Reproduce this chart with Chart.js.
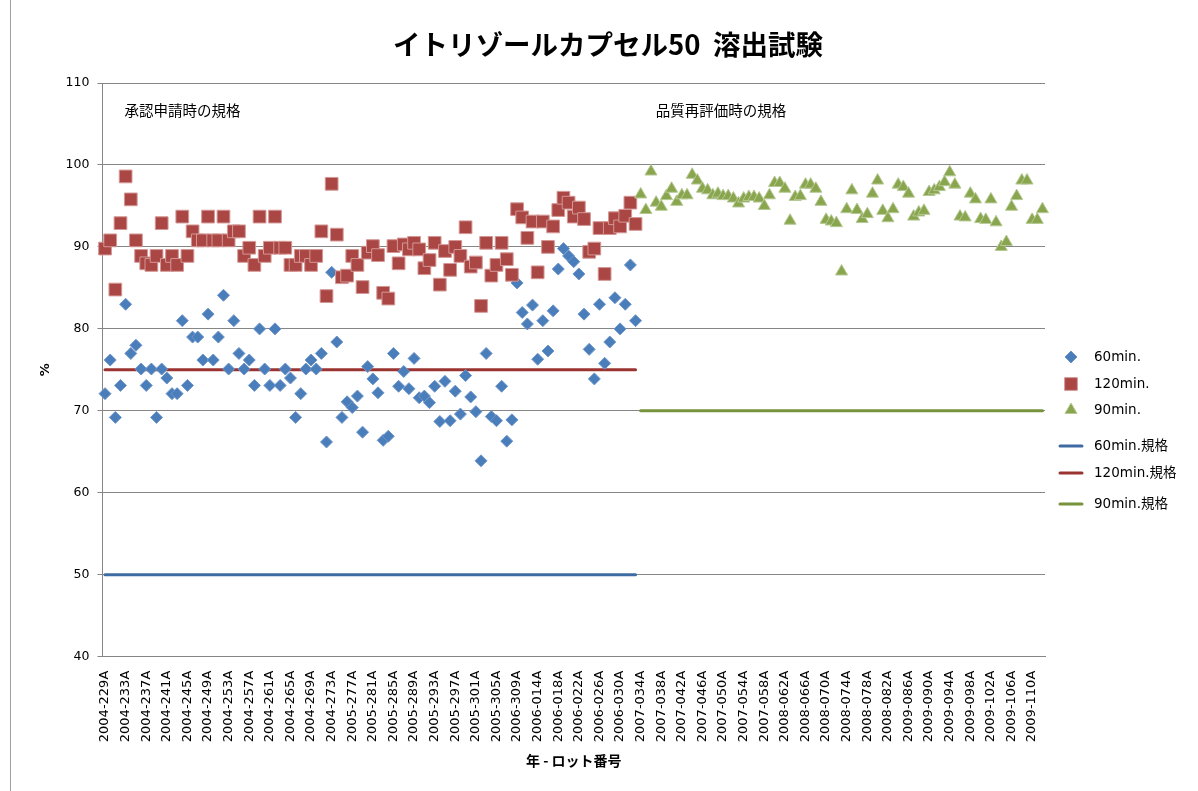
<!DOCTYPE html>
<html>
<head>
<meta charset="utf-8">
<script src="https://cdn.jsdelivr.net/npm/chart.js@4.4.1/dist/chart.umd.min.js"></script>
<style>
  html, body { margin: 0; padding: 0; background: #fff; }
  #wrap { position: relative; width: 1198px; height: 791px; }
  #edge { position: absolute; left: 10px; top: 0; width: 1px; height: 791px; background: #a0a0a0; }
</style>
</head>
<body>
<div id="wrap"><canvas id="chart"></canvas><div id="edge"></div></div>
<script>
// tick labels shown on the x axis (every 4th lot)
var lotTicks = ["2004-229A", "2004-233A", "2004-237A", "2004-241A", "2004-245A", "2004-249A", "2004-253A", "2004-257A",
  "2004-261A", "2004-265A", "2004-269A", "2004-273A", "2005-277A", "2005-281A", "2005-285A", "2005-289A",
  "2005-293A", "2005-297A", "2005-301A", "2005-305A", "2006-309A", "2006-014A", "2006-018A", "2006-022A",
  "2006-026A", "2006-030A", "2007-034A", "2007-038A", "2007-042A", "2007-046A", "2007-050A", "2007-054A",
  "2007-058A", "2008-062A", "2008-066A", "2008-070A", "2008-074A", "2008-078A", "2008-082A", "2009-086A",
  "2009-090A", "2009-094A", "2009-098A", "2009-102A", "2009-106A", "2009-110A"];
var lotCount = 183;

// 60min. results (lots 0..103)
var dis60 = [72.1, 76.2, 69.2, 73.1, 83.0, 77.0, 78.0, 75.1, 73.1, 75.1, 69.2, 75.1, 74.0, 72.1, 72.1, 81.0,
  73.1, 79.0, 79.0, 76.2, 81.8, 76.2, 79.0, 84.1, 75.1, 81.0, 77.0, 75.1, 76.2, 73.1, 80.0, 75.1,
  73.1, 80.0, 73.1, 75.1, 74.0, 69.2, 72.1, 75.1, 76.2, 75.1, 77.0, 66.2, 86.9, 78.4, 69.2, 71.1,
  70.4, 71.8, 67.4, 75.4, 73.9, 72.2, 66.4, 66.9, 77.0, 73.0, 74.8, 72.7, 76.4, 71.6, 71.8, 71.0,
  73.0, 68.7, 73.6, 68.8, 72.4, 69.6, 74.3, 71.7, 69.9, 63.9, 77.0, 69.3, 68.8, 73.0, 66.3, 68.9,
  85.6, 82.0, 80.6, 82.9, 76.3, 81.0, 77.3, 82.2, 87.3, 89.8, 88.9, 88.2, 86.7, 81.8, 77.5, 73.9,
  83.0, 75.8, 78.4, 83.8, 80.0, 83.0, 87.8, 81.0];

// 120min. results (lots 0..103)
var dis120 = [89.8, 90.8, 84.8, 92.9, 98.6, 95.8, 90.8, 88.9, 88.0, 87.8, 88.9, 92.9, 87.8, 88.9, 87.8, 93.7,
  88.9, 91.9, 90.8, 90.8, 93.7, 90.8, 90.8, 93.7, 90.8, 91.9, 91.9, 88.9, 89.9, 87.8, 93.7, 88.9,
  89.9, 93.7, 89.9, 89.9, 87.8, 87.8, 88.9, 88.9, 87.8, 88.9, 91.9, 84.0, 97.7, 91.5, 86.3, 86.5,
  88.9, 87.8, 85.1, 89.3, 90.1, 89.0, 84.4, 83.7, 90.1, 88.0, 90.3, 89.7, 90.5, 89.7, 87.4, 88.4,
  90.5, 85.4, 89.5, 87.2, 90.0, 88.9, 92.4, 87.6, 88.1, 82.8, 90.5, 86.5, 87.8, 90.5, 88.5, 86.6,
  94.6, 93.6, 91.1, 93.1, 86.9, 93.1, 90.0, 92.5, 94.5, 96.0, 95.4, 93.7, 94.8, 93.4, 89.4, 89.8,
  92.3, 86.7, 92.3, 93.5, 92.5, 93.8, 95.4, 92.8];

// 90min. results (lots 104..182)
var dis90 = [96.4, 94.5, 99.2, 95.4, 94.9, 96.2, 97.1, 95.5, 96.3, 96.3, 98.8, 98.1, 97.1, 96.9, 96.3, 96.5,
  96.2, 96.2, 95.9, 95.3, 95.9, 96.1, 96.1, 95.9, 95.0, 96.3, 97.8, 97.8, 97.1, 93.2, 96.1, 96.2,
  97.6, 97.6, 97.1, 95.5, 93.3, 93.1, 92.9, 87.0, 94.6, 96.9, 94.5, 93.4, 94.0, 96.5, 98.1, 94.4,
  93.5, 94.6, 97.6, 97.3, 96.5, 93.7, 94.2, 94.4, 96.7, 96.9, 97.3, 97.9, 99.1, 97.6, 93.7, 93.6,
  96.5, 95.8, 93.4, 93.3, 95.8, 93.0, 90.0, 90.6, 94.9, 96.2, 98.1, 98.1, 93.3, 93.3, 94.6];

// spec limits
var spec60 = 50;
var spec120 = 75;
var spec90 = 70;

var seriesNames = ["60min.", "120min.", "90min.", "60min.規格", "120min.規格", "90min.規格"];

var latin = "'DejaVu Sans', 'Noto Sans CJK JP', sans-serif";
var jp = "'Noto Sans CJK JP', sans-serif";

var split = dis60.length;
var categories = [];
for (var i = 0; i < lotCount; i++) {
  categories.push(i % 4 === 0 ? lotTicks[i / 4] : '');
}

function before(arr) { return arr.concat(new Array(lotCount - arr.length).fill(null)); }
function after(arr) { return new Array(lotCount - arr.length).fill(null).concat(arr); }
function flat(v, from, to) {
  var out = [];
  for (var i = 0; i < lotCount; i++) out.push(i >= from && i <= to ? v : null);
  return out;
}

var sideLegend = {
  id: 'sideLegend',
  afterDraw: function (chart) {
    var ctx = chart.ctx;
    var rows = [357, 384, 410, 446, 473, 504];
    var x = 1071;
    chart.data.datasets.forEach(function (ds, k) {
      var y = rows[k];
      ctx.save();
      if (ds.showLine === false) {
        ctx.fillStyle = ds.pointBackgroundColor;
        ctx.strokeStyle = ds.pointBorderColor;
        ctx.lineWidth = 1;
        Chart.helpers.drawPoint(ctx, { pointStyle: ds.pointStyle, radius: ds.pointRadius, rotation: 0, borderWidth: 1 }, x, y);
      } else {
        ctx.strokeStyle = ds.borderColor;
        ctx.lineWidth = 3;
        ctx.lineCap = 'round';
        ctx.beginPath();
        ctx.moveTo(x - 11, y);
        ctx.lineTo(x + 11, y);
        ctx.stroke();
      }
      ctx.fillStyle = '#000';
      ctx.font = "13.5px " + latin;
      ctx.textBaseline = 'middle';
      ctx.fillText(ds.label, 1094, y);
      ctx.restore();
    });
  }
};

// chart title and the two notes above the data
var notes = {
  id: 'notes',
  afterDraw: function (chart) {
    var ctx = chart.ctx;
    var xs = chart.scales.x, ys = chart.scales.y;
    ctx.save();
    ctx.fillStyle = '#000';
    ctx.textBaseline = 'middle';
    ctx.textAlign = 'center';
    ctx.font = "bold 27.5px " + jp;
    ctx.fillText('イトリゾールカプセル50  溶出試験', 608, 45);
    ctx.textAlign = 'left';
    ctx.font = "14.5px " + jp;
    ctx.fillText("承認申請時の規格", chart.chartArea.left + 22, ys.getPixelForValue(106.6));
    ctx.fillText("品質再評価時の規格", xs.getPixelForValue(split) + 15, ys.getPixelForValue(106.6));
    ctx.restore();
  }
};

new Chart(document.getElementById("chart"), {
  type: 'line',
  data: {
    labels: categories,
    datasets: [
      {
        label: seriesNames[0], data: before(dis60), showLine: false, order: 2,
        pointStyle: 'rectRot', pointRadius: 6, pointBackgroundColor: '#4A7EBB', pointBorderColor: '#6F95C8',
        pointBorderWidth: 1, borderColor: '#4A7EBB'
      },
      {
        label: seriesNames[1], data: before(dis120), showLine: false, order: 1,
        pointStyle: 'rect', pointRadius: 9, pointBackgroundColor: '#AA4643', pointBorderColor: '#D49896',
        pointBorderWidth: 1, borderColor: '#AA4643'
      },
      {
        label: seriesNames[2], data: after(dis90), showLine: false, order: 0,
        pointStyle: 'triangle', pointRadius: 7, pointBackgroundColor: '#89A54E', pointBorderColor: '#B5C993',
        pointBorderWidth: 1, borderColor: '#89A54E'
      },
      {
        label: seriesNames[3], data: flat(spec60, 0, split - 1), order: 5,
        borderColor: '#3F6BA3', borderWidth: 3, pointRadius: 0, borderCapStyle: 'round'
      },
      {
        label: seriesNames[4], data: flat(spec120, 0, split - 1), order: 4,
        borderColor: '#9A3431', borderWidth: 3, pointRadius: 0, borderCapStyle: 'round'
      },
      {
        label: seriesNames[5], data: flat(spec90, split, lotCount - 1), order: 3,
        borderColor: '#77933C', borderWidth: 3, pointRadius: 0, borderCapStyle: 'round'
      }
    ]
  },
  options: {
    responsive: true,
    maintainAspectRatio: false,
    animation: false,
    layout: { padding: { left: 38, right: 153, top: 83, bottom: 22 } },
    plugins: {
      legend: { display: false },
      tooltip: { enabled: false }
    },
    scales: {
      x: {
        offset: true,
        grid: { display: false },
        border: { display: true, color: '#868686' },
        ticks: {
          autoSkip: false, minRotation: 90, maxRotation: 90, padding: 6,
          color: '#000', font: { family: latin, size: 13 }
        },
        title: {
          display: true, text: '年 - ロット番号', color: '#000',
          font: { family: jp, size: 14, weight: 'bold' }, padding: { top: 4, bottom: 0 }
        }
      },
      y: {
        min: 40, max: 110,
        grid: { color: '#868686', tickLength: 5 },
        border: { display: true, color: '#868686' },
        ticks: { stepSize: 10, padding: 8, color: '#000', font: { family: latin, size: 12.5 } },
        title: {
          display: true, text: '%', color: '#000',
          font: { family: latin, size: 13, weight: 'bold' }, padding: { top: 0, bottom: 4 }
        }
      }
    }
  },
  plugins: [sideLegend, notes]
});
</script>
</body>
</html>
